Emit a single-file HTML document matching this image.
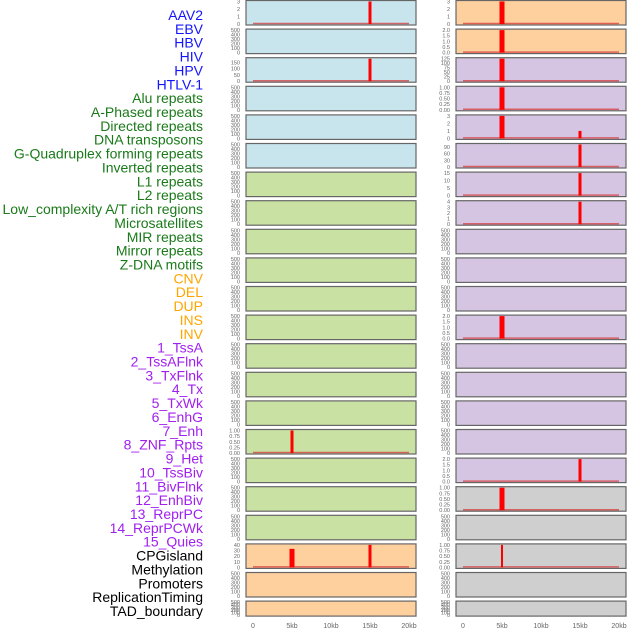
<!DOCTYPE html>
<html><head><meta charset="utf-8"><style>
html,body{margin:0;padding:0;background:#fff;width:630px;height:630px;overflow:hidden}
svg{display:block;font-family:"Liberation Sans",sans-serif}
</style></head><body>
<svg id="chart" width="630" height="630" viewBox="0 0 630 630"></svg>
<script>
const labels=["AAV2","EBV","HBV","HIV","HPV","HTLV-1","Alu repeats","A-Phased repeats","Directed repeats","DNA transposons","G-Quadruplex forming repeats","Inverted repeats","L1 repeats","L2 repeats","Low_complexity A/T rich regions","Microsatellites","MIR repeats","Mirror repeats","Z-DNA motifs","CNV","DEL","DUP","INS","INV","1_TssA","2_TssAFlnk","3_TxFlnk","4_Tx","5_TxWk","6_EnhG","7_Enh","8_ZNF_Rpts","9_Het","10_TssBiv","11_BivFlnk","12_EnhBiv","13_ReprPC","14_ReprPCWk","15_Quies","CPGisland","Methylation","Promoters","ReplicationTiming","TAD_boundary"];
const labelGroups=[6,13,5,15,5];
const labelColors=["#1414ff","#1a7a1a","#ffa500","#a020f0","#000000"];
const leftColors=["#c8e4ec","#c8e4ec","#c8e4ec","#c8e4ec","#c8e4ec","#c8e4ec","#c9e1a3","#c9e1a3","#c9e1a3","#c9e1a3","#c9e1a3","#c9e1a3","#c9e1a3","#c9e1a3","#c9e1a3","#c9e1a3","#c9e1a3","#c9e1a3","#c9e1a3","#fed09e","#fed09e","#fed09e"];
const rightColors=["#fed09e","#fed09e","#d5c5e2","#d5c5e2","#d5c5e2","#d5c5e2","#d5c5e2","#d5c5e2","#d5c5e2","#d5c5e2","#d5c5e2","#d5c5e2","#d5c5e2","#d5c5e2","#d5c5e2","#d5c5e2","#d5c5e2","#cfcfcf","#cfcfcf","#cfcfcf","#cfcfcf","#cfcfcf"];
// per-panel y max and tick values
const leftTicks={0:[0,1,2,3],2:[0,50,100,150],15:[0,0.25,0.5,0.75,1],19:[0,10,20,30,40]};
const leftMax={0:3,2:180,15:1,19:40};
const rightTicks={0:[0,1,2,3],1:[0,0.5,1,1.5,2],2:[0,25,50,75,100,125],3:[0,0.25,0.5,0.75,1],4:[0,1,2,3],5:[0,30,60,90],6:[0,5,10,15],7:[0,1,2,3,4],11:[0,0.5,1,1.5,2],16:[0,0.5,1,1.5,2],17:[0,0.25,0.5,0.75,1],19:[0,0.25,0.5,0.75,1]};
const rightMax={0:3,1:2,2:125,3:1,4:3,5:100,6:15,7:4,11:2,16:2,17:1,19:1};
// bars: [row, position kb, value, width px]
const leftBars=[[0,15,3,3],[2,15,180,3],[15,5,1,3],[19,5,33,5],[19,15,40,3]];
const rightBars=[[0,5,3,5],[1,5,2,5],[2,5,125,5],[3,5,1,5],[4,5,3,5],[4,15,1,3],[5,15,100,3],[6,15,15,3],[7,15,4,3],[11,5,2,5],[16,15,2,3],[17,5,1,5],[19,5,1,2]];
const xTicks=[0,5,10,15,20];
const xTickLabels=["0","5kb","10kb","15kb","20kb"];

const NS="http://www.w3.org/2000/svg";
const svg=document.getElementById("chart");
function mk(t,a,p){const e=document.createElementNS(NS,t);for(const k in a)e.setAttribute(k,a[k]);(p||svg).appendChild(e);return e;}
function fmt(v){return Number.isInteger(v)?String(v):(v.toFixed(2).replace(/0$/,"")==="0.5"?"0.5":v.toFixed(2));}
const nrows=22;
function rowTop(i){return 0.5+28.6*i;}
function rowH(i){return i===21?15:24.5;}

// labels
let idx=0;
labelGroups.forEach((n,g)=>{for(let k=0;k<n;k++){const y=15+idx*(596/43);
const t=mk("text",{x:203,y:y+5,"text-anchor":"end","font-size":"14",fill:labelColors[g]});
t.textContent=labels[idx];


idx++;}});

function drawColumn(px,colors,ticks,maxes,bars,side){
  const x0=px+7,x1=px+163;
  const xs=v=>x0+(x1-x0)*v/20;
  for(let i=0;i<nrows;i++){
    const top=rowTop(i),h=rowH(i);
    const g=mk("g",{});
    
    
    mk("rect",{x:px,y:top,width:170,height:h,fill:colors[i],stroke:"#666",'stroke-width':1.2},g);
    const tv=ticks[i]||[0,100,200,300,400,500];
    const mx=maxes[i]||500;
    const ys=v=>top+h-1-(h-2)*v/mx;
    const lbl=mk("g",{},g);
    
    
    tv.forEach(v=>{const t=mk("text",{x:px-6,y:ys(v)+2,"text-anchor":"end","font-size":"5.5",fill:"#666"},lbl);
      t.textContent=(ticks[i]&&tv.some(q=>!Number.isInteger(q)))?(mx===2?v.toFixed(1):v.toFixed(2)):String(v);});
    const rb=bars.filter(b=>b[0]===i);
    if(rb.length){
      const base=mk("line",{x1:xs(0),x2:xs(20),y1:top+h-1.5,y2:top+h-1.5,stroke:"rgba(215,60,60,0.75)","stroke-width":1.5},g);
      
      
      rb.forEach(b=>{const yt=ys(b[2]);
        const r=mk("rect",{x:xs(b[1])-b[3]/2,y:yt,width:b[3],height:top+h-1-yt,fill:"#ff0000"},g);
        
        });
    }
  }
  const ax=mk("g",{});
  
  
  xTicks.forEach((v,k)=>{const t=mk("text",{x:xs(v),y:628,"text-anchor":"middle","font-size":"7",fill:"#666"},ax);t.textContent=xTickLabels[k];});
}
drawColumn(246,leftColors,leftTicks,leftMax,leftBars,"left");
drawColumn(456,rightColors,rightTicks,rightMax,rightBars,"right");
</script>
</body></html>
